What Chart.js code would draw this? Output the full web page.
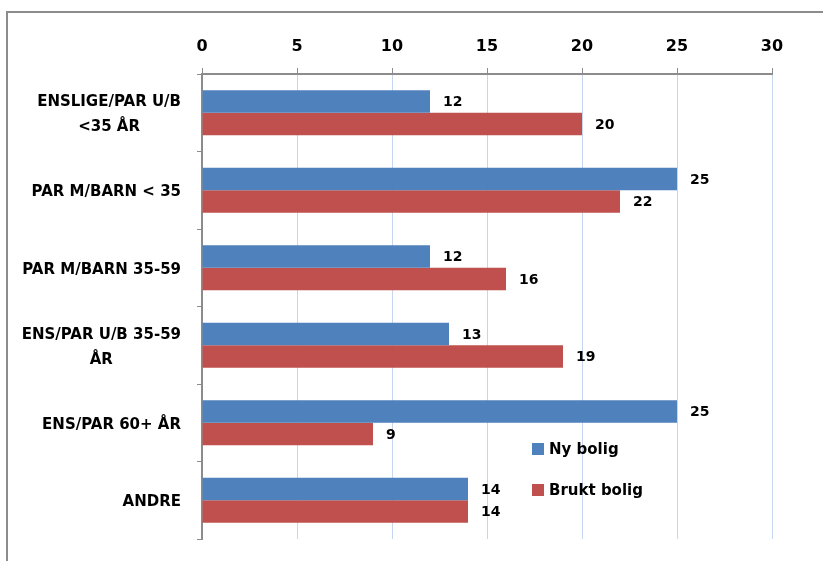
<!DOCTYPE html>
<html>
<head>
<meta charset="utf-8">
<script src="https://cdn.jsdelivr.net/npm/chart.js"></script>
<style>
  html, body { margin: 0; padding: 0; background: #fff; }
  #wrap { position: relative; width: 823px; height: 561px; overflow: hidden; }
  #frame { position: absolute; left: 6px; top: 11px; width: 900px; height: 700px; border: 2px solid #8c8c8c; box-sizing: border-box; }
  canvas { position: absolute; left: 0; top: 0; }
</style>
</head>
<body>
<div id="wrap">
  <div id="frame"></div>
  <canvas id="chart" width="823" height="561"></canvas>
</div>
<script>
// data
const categories = [
  ['ENSLIGE/PAR U/B', '<35 ÅR'],
  'PAR M/BARN < 35',
  'PAR M/BARN 35-59',
  ['ENS/PAR U/B 35-59', 'ÅR'],
  'ENS/PAR 60+ ÅR',
  'ANDRE'
];
const nyBolig = [12, 25, 12, 13, 25, 14];
const bruktBolig = [20, 22, 16, 19, 9, 14];
const seriesNames = ['Ny bolig', 'Brukt bolig'];
const xTicks = [0, 5, 10, 15, 20, 25, 30];

const fontFam = '"DejaVu Sans", sans-serif';

// category labels: right-aligned block, lines centred on each other
const catLabels = {
  id: 'catLabels',
  afterDraw(chart) {
    const ctx = chart.ctx;
    const y = chart.scales.y;
    ctx.save();
    ctx.font = 'bold 15px ' + fontFam;
    ctx.fillStyle = '#000';
    ctx.textAlign = 'center';
    ctx.textBaseline = 'middle';
    const lineH = 25;
    categories.forEach((lab, i) => {
      const lines = Array.isArray(lab) ? lab : [lab];
      const w = Math.max(...lines.map(l => ctx.measureText(l).width));
      const cx = y.left + y.width - 21 - w / 2;
      const cy = y.getPixelForTick(i) + 2;
      lines.forEach((l, k) => {
        ctx.fillText(l, cx, cy + (k - (lines.length - 1) / 2) * lineH);
      });
    });
    ctx.restore();
  }
};

// value labels at the end of each bar
const valueLabels = {
  id: 'valueLabels',
  afterDatasetsDraw(chart) {
    const ctx = chart.ctx;
    ctx.save();
    ctx.font = 'bold 14px ' + fontFam;
    ctx.fillStyle = '#000';
    ctx.textBaseline = 'middle';
    chart.data.datasets.forEach((ds, i) => {
      chart.getDatasetMeta(i).data.forEach((bar, j) => {
        ctx.fillText(String(ds.data[j]), bar.x + 13, bar.y + 1);
      });
    });
    ctx.restore();
  }
};

// legend inside the plot, lower right
const innerLegend = {
  id: 'innerLegend',
  afterDraw(chart) {
    const ctx = chart.ctx;
    ctx.save();
    ctx.font = 'bold 15px ' + fontFam;
    ctx.textBaseline = 'middle';
    chart.data.datasets.forEach((ds, i) => {
      const y = 449 + i * 41;
      ctx.fillStyle = ds.backgroundColor;
      ctx.fillRect(532, y - 6, 12, 12);
      ctx.fillStyle = '#000';
      ctx.fillText(ds.label, 549, y + 1);
    });
    ctx.restore();
  }
};

new Chart(document.getElementById('chart'), {
  type: 'bar',
  data: {
    labels: categories,
    datasets: [
      { label: seriesNames[0], data: nyBolig, backgroundColor: '#4f81bd' },
      { label: seriesNames[1], data: bruktBolig, backgroundColor: '#c0504d' }
    ]
  },
  options: {
    indexAxis: 'y',
    responsive: false,
    animation: false,
    layout: { padding: { left: 0, top: 0, right: 51, bottom: 22 } },
    categoryPercentage: 0.58,
    barPercentage: 1,
    plugins: {
      legend: { display: false },
      tooltip: { enabled: false }
    },
    scales: {
      x: {
        position: 'top',
        min: 0,
        max: 30,
        afterBuildTicks(scale) { scale.ticks = xTicks.map(v => ({ value: v })); },
        afterFit(scale) { scale.height = 74; },
        grid: { color: '#c6d6ee', tickColor: '#8c8c8c', tickLength: 6, lineWidth: 1 },
        border: { color: '#8c8c8c', width: 2 },
        ticks: { color: '#000', padding: 12, font: { family: fontFam, size: 16, weight: 'bold' } }
      },
      y: {
        afterFit(scale) { scale.width = 202; },
        grid: { drawOnChartArea: false, offset: true, tickLength: 5, color: '#8c8c8c' },
        border: { color: '#8c8c8c', width: 2 },
        ticks: { display: false }
      }
    }
  },
  plugins: [valueLabels, catLabels, innerLegend]
});
</script>
</body>
</html>
